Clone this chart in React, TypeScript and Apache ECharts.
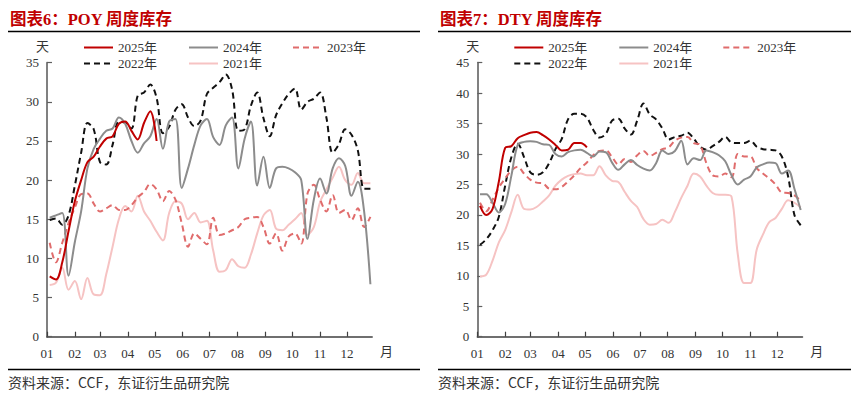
import React, { useEffect, useRef } from "react";
import * as echarts from "echarts";

// ---------- axis scaffolding ----------
const monthLabels = ["01", "02", "03", "04", "05", "06", "07", "08", "09", "10", "11", "12"];
const monthStartDays = [0, 31, 59, 90, 120, 151, 181, 212, 243, 273, 304, 334];
const lastDay = 362;
const firstWeekDay = 3;
const weekStep = 7;

const seriesNames = ["2025年", "2024年", "2023年", "2022年", "2021年"];

// ---------- POY weekly inventory (days) ----------
const poy2025 = [7.7, 7.3, 9.5, 13.5, 17.3, 20, 22.3, 23, 24.3, 25.3, 25.6, 27.2, 27.5, 26.3, 25.2, 27.3, 28.8, 25];
const poy2024 = [15.2, 15.5, 15.8, 7.8, 12.1, 16, 21.5, 24, 25.3, 26.3, 26.6, 28, 27.2, 25, 23.5, 24.7, 25.6, 27.8, 24, 27.5, 27.8, 19, 21.5, 24.5, 27, 27.8, 25.5, 24.5, 27, 28, 21.5, 25.3, 27.5, 19.3, 23, 19, 21.5, 21.7, 21.5, 21, 20, 12.5, 17.5, 20.2, 18.3, 21.5, 22.8, 21.8, 18, 19.8, 16, 6.7];
const poy2023 = [12, 9.5, 12, 14.5, 16.5, 18.2, 18.3, 17, 16, 16.4, 16.8, 16.2, 16.2, 16.8, 17.8, 18.5, 19.5, 18.8, 17.3, 18.6, 17.5, 14.5, 11.5, 13.2, 12.5, 11.8, 15.2, 13, 13.2, 13.6, 14, 15, 15.2, 15.3, 14, 11.9, 13.2, 11, 12.8, 13.2, 11.9, 18.3, 19.4, 17.5, 16, 18.1, 15.8, 16.2, 14.9, 16.4, 14, 15.3];
const poy2022 = [14.9, 15.1, 14.3, 15.5, 19.3, 23.5, 27.3, 26.5, 22.3, 22, 24.5, 27.5, 27.3, 26.6, 30.8, 31.2, 32.2, 30.5, 26, 26.8, 29, 29.7, 28, 26.9, 27.6, 31, 31.8, 32.5, 33.5, 31.6, 26.3, 26.5, 29.5, 31.2, 27.9, 25.6, 28.3, 29.8, 31, 31.7, 29, 30, 30.4, 31.2, 28, 23.5, 24.6, 26.5, 25.8, 23.8, 18.9, 18.9];
const poy2021 = [6.6, 6.9, 8.8, 6, 7.1, 4.8, 7.5, 5.4, 5.3, 8, 11.5, 15, 16.7, 16, 18, 16, 14.8, 13.4, 12.3, 15.8, 17.3, 17, 15, 15.8, 14.6, 14.8, 11, 8.3, 8.5, 9.9, 9, 8.8, 10.5, 13.2, 15.5, 16.2, 13.8, 13.6, 14.3, 15, 15.8, 13, 14, 17.2, 18.8, 20.3, 21.7, 20, 19.4, 20.9, 19.6, 19.6];

// ---------- DTY weekly inventory (days) ----------
const dty2025 = [21.5, 20, 21, 25.5, 31, 31.3, 32.6, 33.1, 33.5, 33.6, 33.1, 32.4, 31.5, 30.6, 30.7, 31.8, 31.8, 31.1];
const dty2024 = [23.4, 23.4, 22, 20.4, 21.8, 26.5, 31.5, 32, 32.1, 32, 31.6, 31.5, 30, 29.6, 30.3, 30.6, 30.7, 30.2, 29.6, 30.4, 30.3, 28.6, 27.4, 28.3, 29, 28.2, 27.6, 27.3, 28.5, 30.6, 30, 30.5, 32.2, 28.3, 29.3, 29, 30.6, 30.3, 29.8, 28.8, 26.5, 25, 25.8, 26.3, 27.8, 28.3, 28.6, 28.5, 26.8, 27.3, 24.3, 20.8];
const dty2023 = [22, 20.6, 22.5, 24.5, 26, 27.3, 27.9, 26.8, 25.8, 25.3, 25.2, 24.3, 24.2, 24.6, 25.5, 26.5, 27.7, 28.6, 29.8, 30.5, 30.6, 29.5, 28.3, 29.2, 28.7, 29.8, 30.5, 29.7, 30.2, 30.8, 31.1, 32.2, 32.7, 32.8, 31.8, 31.5, 28.5, 26.5, 26.3, 26.8, 26.2, 30, 29.6, 29.6, 27.7, 26.8, 26, 25, 23.7, 23.6, 23.2, 22.3];
const dty2022 = [15.1, 16, 17.5, 19.7, 24.8, 29.5, 31.7, 29.5, 27, 26.6, 27, 28.5, 30.8, 32.5, 35.7, 36.6, 36.6, 36, 34, 32.7, 33.3, 35.5, 35.8, 34.2, 33.2, 35.5, 38.3, 36.5, 35.7, 34.2, 32.4, 32.8, 33, 33.5, 32.5, 31.2, 30.7, 31.3, 32, 32.8, 31.9, 31.8, 31.8, 32.2, 31.2, 30.8, 30.7, 30.6, 29.6, 26.3, 20, 18.3];
const dty2021 = [9.9, 10.2, 12.5, 15.5, 17.5, 20.5, 23.3, 21, 20.9, 21.3, 22.2, 23.2, 24.8, 25.8, 26.4, 26.7, 26.8, 26.5, 26.5, 28, 26.5, 25.6, 25.4, 23.8, 22.3, 21.3, 19.3, 18.4, 18.5, 19.2, 18.7, 20.5, 22.8, 24.8, 26.8, 26.3, 24.8, 23.6, 23.3, 23.3, 23, 13.5, 8.8, 8.8, 14.3, 16.8, 18.8, 19.5, 21, 22.4, 22, 21.2];

const poySeries = [poy2025, poy2024, poy2023, poy2022, poy2021];
const dtySeries = [dty2025, dty2024, dty2023, dty2022, dty2021];

const titles = ["图表6：POY 周度库存", "图表7：DTY 周度库存"];
const yMax = [35, 45];
const sourceText = "资料来源：CCF，东证衍生品研究院";

// ---------- styles ----------
const SERIF = "'Liberation Serif', 'Noto Sans CJK SC', serif";
const CJK = "'Noto Sans CJK SC', 'Liberation Serif', serif";
const styles = [
  { color: "#c00000", type: "solid", width: 2 },
  { color: "#8c8c8c", type: "solid", width: 2 },
  { color: "#e06c6c", type: [6, 4], width: 2 },
  { color: "#111111", type: [6, 4], width: 2 },
  { color: "#f6c3c3", type: "solid", width: 2 },
];
const drawOrder = [4, 2, 3, 1, 0];

const axisLeft = [47, 477.3];
const gridTop = 62.7;
const gridHeight = 274;
const gridWidth = 325.2;
const panelLeft = [8, 438];
const panelRight = [420, 851];

const dayCategories: string[] = [];
for (let d = 0; d <= lastDay; d++) {
  const m = monthStartDays.indexOf(d);
  dayCategories.push(m >= 0 ? monthLabels[m] : "");
}

function buildOption() {
  const grids: any[] = [];
  const xAxes: any[] = [];
  const yAxes: any[] = [];
  const series: any[] = [];
  const legends: any[] = [];
  const graphics: any[] = [];

  [poySeries, dtySeries].forEach((set, c) => {
    grids.push({ left: axisLeft[c], top: gridTop, width: gridWidth, height: gridHeight, containLabel: false });
    xAxes.push({
      type: "category",
      gridIndex: c,
      data: dayCategories,
      boundaryGap: false,
      axisLine: { show: true, lineStyle: { color: "#404040", width: 1.5 } },
      axisTick: {
        show: true,
        inside: true,
        length: 5,
        interval: (_i: number, v: string) => v !== "",
        lineStyle: { color: "#404040", width: 1.2 },
      },
      axisLabel: {
        interval: (_i: number, v: string) => v !== "",
        margin: 10,
        fontSize: 13,
        fontFamily: SERIF,
        color: "#333",
      },
      splitLine: { show: false },
    });
    yAxes.push({
      type: "value",
      gridIndex: c,
      min: 0,
      max: yMax[c],
      interval: 5,
      axisLine: { show: true, lineStyle: { color: "#808080", width: 2 } },
      axisTick: { show: true, inside: true, length: 5, lineStyle: { color: "#606060", width: 1.2 } },
      axisLabel: { margin: 8, fontSize: 13, fontFamily: SERIF, color: "#333" },
      splitLine: { show: false },
    });
    drawOrder.forEach((k) => {
      series.push({
        name: seriesNames[k],
        type: "line",
        xAxisIndex: c,
        yAxisIndex: c,
        data: set[k].map((v, i) => [firstWeekDay + weekStep * i, v]),
        symbol: "none",
        smooth: 0.35,
        lineStyle: { color: styles[k].color, width: styles[k].width, type: styles[k].type },
        itemStyle: { color: styles[k].color },
        z: 2 + (4 - k),
      });
    });
    const cols = [36, 141, 245];
    const rowsY = [48, 64];
    const pos = [
      [0, 0],
      [1, 0],
      [2, 0],
      [0, 1],
      [1, 1],
    ];
    seriesNames.forEach((n, k) => {
      legends.push({
        data: [n],
        left: axisLeft[c] + cols[pos[k][0]],
        top: rowsY[pos[k][1]] - 7,
        padding: 0,
        itemWidth: 29,
        itemHeight: 14,
        itemGap: 0,
        itemStyle: { opacity: 0 },
        textStyle: { fontSize: 13, fontFamily: SERIF, color: "#333" },
        selectedMode: false,
      });
    });
    graphics.push(
      {
        type: "text",
        left: panelLeft[c] + 2,
        top: 11,
        style: { text: titles[c], fill: "#c00000", fontSize: 16.5, fontWeight: "bold", fontFamily: SERIF },
      },
      {
        type: "line",
        shape: { x1: panelLeft[c], y1: 31.5, x2: panelRight[c], y2: 31.5 },
        style: { stroke: "#000", lineWidth: 1.3 },
      },
      {
        type: "line",
        shape: { x1: panelLeft[c], y1: 369.5, x2: panelRight[c], y2: 369.5 },
        style: { stroke: "#000", lineWidth: 1.3 },
      },
      {
        type: "text",
        left: panelLeft[c],
        top: 375,
        style: { text: sourceText, fill: "#333", fontSize: 14, fontFamily: CJK },
      },
      {
        type: "text",
        left: axisLeft[c] - 11,
        top: 39,
        style: { text: "天", fill: "#333", fontSize: 13, fontFamily: CJK },
      },
      {
        type: "text",
        left: axisLeft[c] + 333,
        top: 344,
        style: { text: "月", fill: "#333", fontSize: 13, fontFamily: CJK },
      }
    );
  });

  return {
    animation: false,
    backgroundColor: "#ffffff",
    grid: grids,
    xAxis: xAxes,
    yAxis: yAxes,
    legend: legends,
    series,
    graphic: graphics,
  };
}

export default function App() {
  const ref = useRef<HTMLDivElement>(null);
  useEffect(() => {
    if (!ref.current) return;
    const chart = echarts.init(ref.current, undefined, { renderer: "svg" });
    chart.setOption(buildOption() as any);
    return () => chart.dispose();
  }, []);
  return (
    <div
      ref={ref}
      style={{ position: "absolute", left: 0, top: 0, width: 858, height: 397, background: "#fff" }}
    />
  );
}
